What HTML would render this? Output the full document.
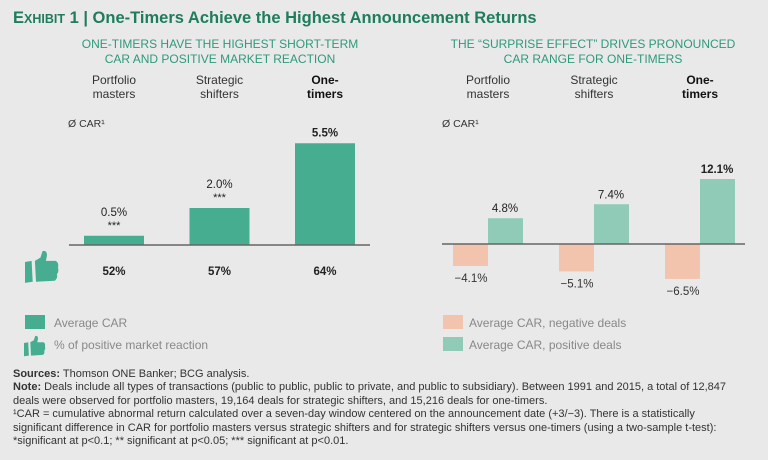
<!DOCTYPE html>
<html><head><meta charset="utf-8"><style>
body{margin:0;width:768px;height:460px;background:#e9e9ea;overflow:hidden;font-family:"Liberation Sans",sans-serif}
svg{position:absolute;left:0;top:0}
.fn{position:absolute;left:13px;top:368px;font-size:11px;line-height:13.4px;color:#333;letter-spacing:0;width:800px}
</style></head><body>
<svg width="768" height="460">
<text x="13" y="23" font-size="16.5" font-weight="bold" fill="#1f7d5c">E<tspan font-size="12.5">XHIBIT</tspan> 1 | One-Timers Achieve the Highest Announcement Returns</text>
<g font-size="12" fill="#2e9a7a" text-anchor="middle"><text x="220" y="48">ONE-TIMERS HAVE THE HIGHEST SHORT-TERM</text><text x="220" y="63">CAR AND POSITIVE MARKET REACTION</text></g>
<g font-size="12" fill="#2e9a7a" text-anchor="middle"><text x="593" y="48">THE “SURPRISE EFFECT” DRIVES PRONOUNCED</text><text x="593" y="63">CAR RANGE FOR ONE-TIMERS</text></g>
<g id="left"></g>
<g id="right"></g>
</svg>
<div class="fn">
<b>Sources:</b> Thomson ONE Banker; BCG analysis.<br>
<b>Note:</b> Deals include all types of transactions (public to public, public to private, and public to subsidiary). Between 1991 and 2015, a total of 12,847<br>deals were observed for portfolio masters, 19,164 deals for strategic shifters, and 15,216 deals for one-timers.<br>
¹CAR = cumulative abnormal return calculated over a seven-day window centered on the announcement date (+3/−3). There is a statistically<br>significant difference in CAR for portfolio masters versus strategic shifters and for strategic shifters versus one-timers (using a two-sample t-test):<br>*significant at p&lt;0.1; ** significant at p&lt;0.05; *** significant at p&lt;0.01.
</div>
<script>
const categories=[["Portfolio","masters"],["Strategic","shifters"],["One-","timers"]];
const avgCar=[0.5,2.0,5.5];
const avgCarLabels=["0.5%","2.0%","5.5%"];
const stars=["***","***",""];
const positiveReaction=["52%","57%","64%"];
const negDeals=[-4.1,-5.1,-6.5];
const posDeals=[4.8,7.4,12.1];
const negLabels=["−4.1%","−5.1%","−6.5%"];
const posLabels=["4.8%","7.4%","12.1%"];
const NS="http://www.w3.org/2000/svg";
function mk(p,t,a,txt){const e=document.createElementNS(NS,t);for(const k in a)e.setAttribute(k,a[k]);if(txt!==undefined)e.textContent=txt;p.appendChild(e);return e;}
const L=document.getElementById('left'),R=document.getElementById('right');
const lBase=245,lScale=18.5;const lx=i=>114+i*105.5;const ly=v=>lBase-v*lScale;
const rBase=244,rScale=5.37;const rx=i=>488+i*106;const ry=v=>rBase-v*rScale;
function thumb(p,x,y,s,name){const g=mk(p,'g',{transform:`translate(${x},${y}) scale(${s})`,fill:'#47ad91'});


mk(g,'path',{d:'M0 10 L6 9 L7 28 L0 29 Z'});mk(g,'path',{d:'M9 9 L14 6 L16 0 Q20 -1 20 4 L19 9 L28 9 Q31 11 30 15 Q31 19 29 21 Q30 25 27 27 L10 28 Z'});}
categories.forEach((c,i)=>{
 const bold=i===2;
 c.forEach((t,j)=>{const e=mk(L,'text',{x:lx(i),y:84+j*14,'font-size':12,'text-anchor':'middle',fill:bold?'#111':'#333','font-weight':bold?'bold':'normal'},t);
 
 
 const e2=mk(R,'text',{x:rx(i),y:84+j*14,'font-size':12,'text-anchor':'middle',fill:bold?'#111':'#333','font-weight':bold?'bold':'normal'},t);
 
 });
 const b=mk(L,'rect',{x:lx(i)-30,y:ly(avgCar[i]),width:60,height:lBase-ly(avgCar[i]),fill:'#47ad91'});
 
 
 const top=ly(avgCar[i]);
 const lt=mk(L,'text',{x:lx(i),y:stars[i]?top-20:top-7,'font-size':11.5,'text-anchor':'middle',fill:'#222','font-weight':bold?'bold':'normal'},avgCarLabels[i]);
 
 
 if(stars[i]){const st=mk(L,'text',{x:lx(i),y:top-7,'font-size':11,'text-anchor':'middle',fill:'#222'},stars[i]);
 
 }
 const pr=mk(L,'text',{x:lx(i),y:275,'font-size':11.5,'text-anchor':'middle',fill:'#222','font-weight':'bold'},positiveReaction[i]);
 
 
 const nb=mk(R,'rect',{x:rx(i)-35,y:rBase,width:35,height:ry(negDeals[i])-rBase,fill:'#f2c3ad'});
 
 
 const pb=mk(R,'rect',{x:rx(i),y:ry(posDeals[i]),width:35,height:rBase-ry(posDeals[i]),fill:'#8fcbb6'});
 
 
 const nl=mk(R,'text',{x:rx(i)-17,y:ry(negDeals[i])+16,'font-size':11.5,'text-anchor':'middle',fill:'#333'},negLabels[i]);
 
 
 const pl=mk(R,'text',{x:rx(i)+17,y:ry(posDeals[i])-6,'font-size':11.5,'text-anchor':'middle',fill:'#222','font-weight':bold?'bold':'normal'},posLabels[i]);
 
 
});
let a=mk(L,'line',{x1:69,x2:370,y1:lBase,y2:lBase,stroke:'#666','stroke-width':1.5});


a=mk(R,'line',{x1:442,x2:745,y1:rBase,y2:rBase,stroke:'#666','stroke-width':1.5});


a=mk(L,'text',{x:68,y:127,'font-size':10.5,fill:'#333'},'Ø CAR¹');


a=mk(R,'text',{x:442,y:127,'font-size':10.5,fill:'#333'},'Ø CAR¹');


thumb(L,25,251,1.1,'thumb-icon');
a=mk(L,'rect',{x:25,y:315,width:20,height:14,fill:'#47ad91'});


a=mk(L,'text',{x:54,y:327,'font-size':12,fill:'#888'},'Average CAR');


thumb(L,24,336,0.7,'legend-thumb-icon');
a=mk(L,'text',{x:54,y:349,'font-size':12,fill:'#888'},'% of positive market reaction');


a=mk(R,'rect',{x:443,y:315,width:20,height:14,fill:'#f2c3ad'});


a=mk(R,'text',{x:469,y:327,'font-size':12,fill:'#888'},'Average CAR, negative deals');


a=mk(R,'rect',{x:443,y:337,width:20,height:14,fill:'#8fcbb6'});


a=mk(R,'text',{x:469,y:349,'font-size':12,fill:'#888'},'Average CAR, positive deals');


</script>
</body></html>
